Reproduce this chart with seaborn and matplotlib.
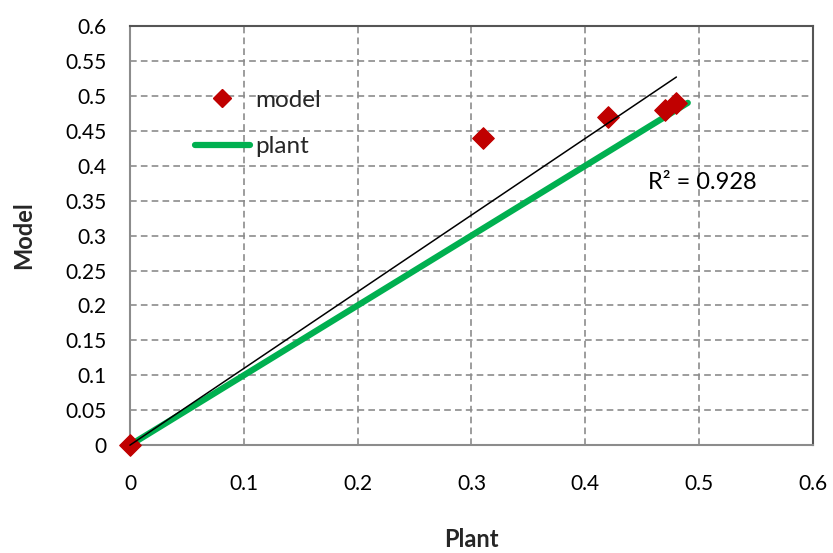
import numpy as np
import pandas as pd
import seaborn as sns
import matplotlib
matplotlib.use("Agg")
import matplotlib.pyplot as plt
from matplotlib.lines import Line2D

# Measured plant output vs. model prediction
plant = [0.0, 0.31, 0.42, 0.47, 0.48]
model = [0.0, 0.44, 0.47, 0.48, 0.49]

# Ideal plant line (y = x)
plant_line_x = [0.0, 0.49]
plant_line_y = [0.0, 0.49]

r2_label = "R² = 0.928"

x_ticks = [0, 0.1, 0.2, 0.3, 0.4, 0.5, 0.6]
y_ticks = [0, 0.05, 0.1, 0.15, 0.2, 0.25, 0.3, 0.35, 0.4, 0.45, 0.5, 0.55, 0.6]
y_tick_labels = ["0", "0.05", "0.1", "0.15", "0.2", "0.25", "0.3", "0.35",
                 "0.4", "0.45", "0.5", "0.55", "0.6"]

sns.set_style("white")
plt.rcParams["font.family"] = ["Lato", "DejaVu Sans"]

df = pd.DataFrame({"Plant": plant, "Model": model})
df_line = pd.DataFrame({"x": plant_line_x, "y": plant_line_y})

fig = plt.figure(figsize=(8.33, 5.53), dpi=100)
ax = fig.add_axes([0.156, 0.195, 0.82, 0.758])

grid_col = "#8c8c8c"
# plant reference line
sns.lineplot(data=df_line, x="x", y="y", ax=ax, color="#00B050", lw=4.5,
             zorder=3, legend=False)
# model points
sns.scatterplot(data=df, x="Plant", y="Model", ax=ax, marker="D", s=120,
                color="#C00000", edgecolor="#C00000", zorder=4, legend=False,
                clip_on=False)

# linear trendline through the origin
xs = np.array(plant)
ys = np.array(model)
slope = np.sum(xs * ys) / np.sum(xs * xs)
tx = np.array([0.0, xs.max()])
ax.plot(tx, slope * tx, color="black", lw=1.1, zorder=5, clip_on=False)

ax.text(0.455, 0.3766, r2_label, fontsize=17, color="black", zorder=6,
        va="center", ha="left")

ax.set_xlim(0, 0.6)
ax.set_ylim(0, 0.6)
ax.set_xticks(x_ticks)
ax.set_xticklabels([f"{t:g}" for t in x_ticks])
ax.set_yticks(y_ticks)
ax.set_yticklabels(y_tick_labels)
ax.tick_params(axis="both", labelsize=15, colors=grid_col, labelcolor="black",
               direction="inout", length=10, width=1.5)
ax.tick_params(axis="y", pad=12)
ax.tick_params(axis="x", pad=16)

ax.grid(True, color=grid_col, linestyle=(0, (4, 2.5)), lw=1.2, zorder=0)
ax.set_axisbelow(True)
for side in ["left", "bottom"]:
    ax.spines[side].set_color(grid_col)
    ax.spines[side].set_linewidth(1.5)
for side in ["top", "right"]:
    ax.spines[side].set_visible(True)
    ax.spines[side].set_color("#555555")
    ax.spines[side].set_linewidth(1.5)

ax.set_xlabel("Plant", fontsize=17, fontweight="bold")
ax.set_ylabel("Model", fontsize=17, fontweight="bold")
ax.xaxis.label.set_va("center")
ax.yaxis.label.set_va("center")
ax.xaxis.set_label_coords(0.5, -0.224)
ax.yaxis.set_label_coords(-0.155, 0.5)

handles = [
    Line2D([], [], marker="D", color="#C00000", linestyle="none", markersize=9),
    Line2D([], [], color="#00B050", lw=4.5),
]
ax.legend(handles, ["model", "plant"], loc="upper left",
          bbox_to_anchor=(0.081, 0.871), frameon=False, fontsize=17.5,
          handlelength=2.26, handletextpad=0.2, labelspacing=1.05,
          borderaxespad=0)

fig.savefig("out.png", dpi=100)
